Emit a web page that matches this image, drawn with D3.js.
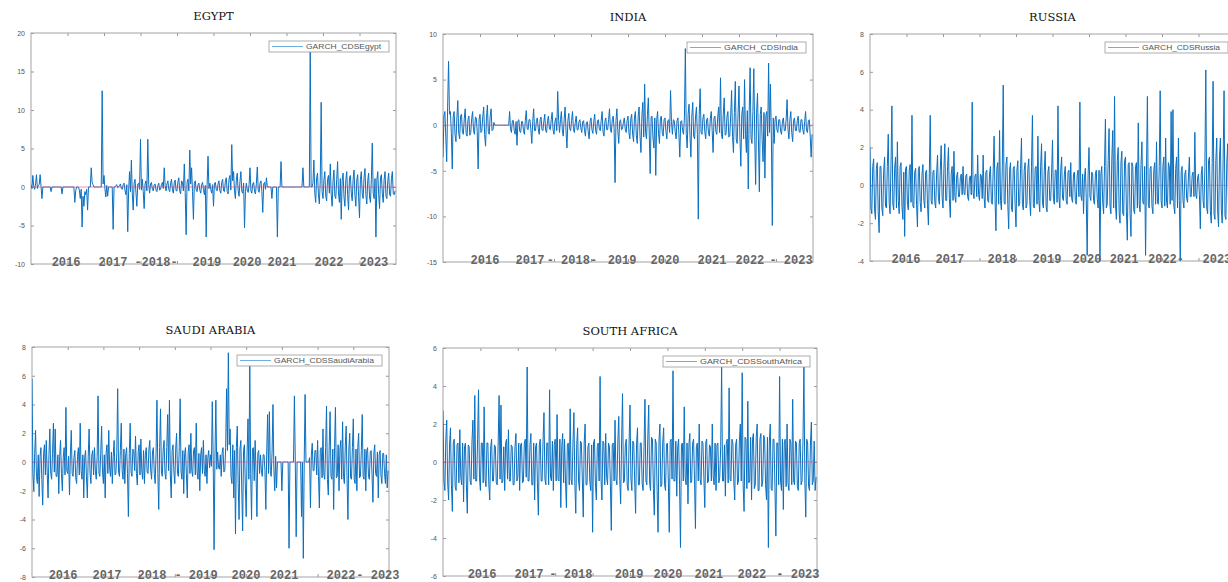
<!DOCTYPE html>
<html>
<head>
<meta charset="utf-8">
<script src="https://cdn.jsdelivr.net/npm/d3@7"></script>
<style>
body { margin: 0; background: #fff; }
svg { display: block; }
</style>
</head>
<body>
<div id="chart"></div>
<script>
"use strict";

// one value read every 5 observations, 2000 observations per series

const obsStep = 5;
const obsCount = 2000;
const xTicks = [200, 400, 600, 800, 1000, 1200, 1400, 1600, 1800];

const titles = ["EGYPT", "INDIA", "RUSSIA", "SAUDI ARABIA", "SOUTH AFRICA"];
const legendNames = ["GARCH_CDSEgypt", "GARCH_CDSIndia", "GARCH_CDSRussia", "GARCH_CDSSaudiArabia", "GARCH_CDSSouthAfrica"];

const egypt = [
    0.3, -0.2, 1.5, 0.1, -0.3, 0.4, 1.6, -0.2, 0.2, 0.3, 1.6, 0.1, -1.5, 0, 0, 0, 0, 0, 0, 0,
    0, 0, -0.6, 0, 0, 0, 0, 0, 0, 0, 0, 0, 0, 0, -0.9, 0, 0, 0, 0, 0,
    0, 0, 0, 0, 0, 0, 0, 0, -2.0, -0.5, 0, 0, 0, -0.4, -1.5, -0.3, -5.2, -1.2, -2.5, -0.6,
    -1.0, -0.3, -3.0, 0, 0, 0, 2.5, 0.6, 0.3, 0, 0, 0, 0, 0, 0, 0, 0, 0, 12.5, 0.4,
    1.5, -0.2, -1.3, 0.2, -1.2, 0, 0, 0, 0, 0, -5.5, 0, 0, 0.2, 0.3, -0.1, 0, 0.2, 0.4, -0.2,
    -0.3, 0.3, 0.5, -0.4, -1.0, 0.3, -5.8, -0.5, 2.0, -0.6, 3.5, -0.8, -3.0, 0.5, 1.0, -0.7, -2.5, 0.4, 0.5, -0.3,
    6.2, -0.4, 1.0, -0.6, -2.8, 0.4, 0.8, -0.5, 6.2, 0.3, -0.8, 0.4, 0.6, -0.3, -0.5, 0.3, 0.4, -0.4, -0.6, 0.2,
    0.5, -0.4, -0.3, 0.3, 0.6, -0.2, 2.5, 0.2, -0.5, 0.4, 0.8, -0.3, -0.6, 0.5, 1.0, -0.4, -0.8, 0.6, 0.9, -0.5,
    -0.5, 0.7, 1.2, -0.6, -0.9, 0.8, 0.6, -0.5, 3.0, -0.7, -6.2, 0.6, 1.0, -0.5, 4.8, 0.4, 2.5, -0.6, -4.2, 0.5,
    0.8, -0.4, -0.6, 0.3, 0.5, -0.4, -0.8, 0.3, 0.6, -0.3, -1.0, 0.2, -6.5, 0.3, 4.0, -0.2, 0.5, -0.3, -0.8, 0.3,
    -2.5, 0.4, 0.6, -0.3, -0.5, 0.4, 0.8, -0.5, -0.8, 0.6, 1.0, -0.5, -0.6, 0.8, 1.2, -0.6, -0.9, 1.0, 1.5, -0.4,
    5.5, 0.8, 2.0, -0.5, -1.5, 0.9, 1.8, -0.4, -1.2, 0.7, 2.0, -0.6, -0.8, 0.5, -5.3, -0.6, 0.5, -0.4, -0.7, 0.3,
    2.5, -0.5, -0.8, 0.4, 0.6, -0.6, -0.9, 0.5, 2.6, -0.4, -0.7, 0.5, 0.8, -0.6, -3.3, 0.4, 0.6, -0.3, 1.2, 0,
    0, 0, 0, 0, -1.5, 0, 0, 0, 0, 0, -6.5, 0, 0, 0, 3.3, 0, 0, 0, 0, 0,
    0, 0, 0, 0, 0, 0, 0, 0, 0, 0, 0, 0, 0, 0, 0, 0, 0, 0, 2.5, 0,
    0, 0, 0, 0, 0, 0, 17.8, 0, 0, 0.5, 3.5, -0.8, -2.0, 1.2, 1.8, -1.0, -2.2, 0.8, 11.0, -0.6,
    -1.5, 0.9, 2.0, -1.2, -1.8, 1.0, 1.5, -0.8, 3.0, -1.0, -2.5, 0.8, 2.2, -1.2, -1.5, 1.0, 3.3, -0.9, -2.0, 1.1,
    -4.2, 0.8, 1.8, -1.3, -2.5, 0.9, 2.0, -1.0, -3.0, 1.2, 1.5, -0.8, -1.8, 1.0, 2.2, -1.1, -2.5, 0.9, 1.6, -1.2,
    -4.0, 1.0, 2.0, -0.9, -1.5, 1.2, 2.4, -1.0, -2.2, 0.8, 1.8, -1.3, -2.0, 1.0, 5.7, -0.8, -1.5, 1.1, -6.5, 0.9,
    2.0, -1.0, -2.8, 1.2, 1.6, -0.9, -2.0, 1.0, 2.0, -1.2, -1.5, 0.8, 1.8, -1.0, -1.2, 1.1, 2.0, -0.9, -1.0, -0.5
];

const india = [
    -3.5, 1.0, 1.5, -1.2, -4.0, 2.0, 7.0, 1.2, 1.5, -0.8, -4.8, 0.9, 1.5, -1.0, -1.8, 0.8, 2.7, -0.9, -1.5, 1.0,
    1.2, -0.8, -1.0, 0.7, 1.8, -0.9, -1.2, 0.6, 1.0, -1.1, -0.8, 0.7, 1.5, -0.6, -1.0, 0.9, 0.8, -0.7, -4.8, 0.6,
    1.2, -0.8, -0.6, 0.9, 2.0, -1.0, -2.3, 0.8, 2.2, -0.7, -1.0, 1.0, 1.8, -0.6, -0.5, 0.3, 0, 0, 0, 0,
    0, 0, 0, 0, 0, 0, 0, 0, 0, 0, 0, 0, 1.5, -0.4, -0.8, 0.5, 0.5, -0.6, -1.0, 0.4,
    -2.2, 0.5, 0.6, -0.7, -0.8, 0.4, 0.4, -0.6, -1.0, 0.5, 1.6, -0.4, -0.5, 0.6, 0.6, -0.5, -2.0, 0.4, 1.8, -0.6,
    -0.6, 0.5, 0.8, -0.4, -1.0, 0.6, 0.9, -0.5, -0.6, 0.4, 1.2, -0.6, -0.8, 0.5, 1.0, -0.4, -0.5, 0.6, 1.4, -0.5,
    -1.0, 0.4, 0.8, -0.6, 3.7, 0.5, -0.8, 0.6, 1.5, -0.5, -1.2, 0.7, 2.0, -0.6, -2.5, 0.5, 1.3, -0.4, -0.6, 0.5,
    1.5, -0.4, -0.8, 0.3, 1.0, -0.5, -0.5, 0.4, 0.6, -0.3, -0.8, 0.4, 0.5, -0.6, -1.2, 0.3, 0.4, -0.7, -1.5, 0.4,
    0.8, -0.5, -0.9, 0.4, 1.2, -0.6, -1.0, 0.5, 0.6, -0.4, -0.6, 0.5, 1.5, -0.7, -1.2, 0.4, 0.8, -0.5, -0.5, 0.6,
    1.8, -0.5, -0.8, 0.6, 1.0, -0.4, -6.3, 0.5, 1.8, -0.6, -2.0, 0.4, 0.6, -0.5, -0.4, 0.3, 0.8, -0.4, -0.8, 0.5,
    1.0, -0.8, -1.5, 0.7, 1.2, -1.0, -1.8, 0.9, 1.5, -1.1, -2.0, 1.0, 2.0, -1.2, -3.0, 1.0, 2.5, -1.3, 4.5, -0.8,
    -1.5, 1.2, 3.0, -1.0, -5.3, 0.9, 1.0, -1.4, -2.5, 0.8, -5.5, 0.6, 1.5, -0.9, -2.0, 0.7, 1.0, -0.8, -1.2, 0.6,
    0.8, -0.7, -1.5, 0.5, 0.6, -0.8, 3.8, 0.4, -1.0, 0.6, 0.5, -0.7, -1.5, 0.5, 0.8, -0.9, -3.5, 0.4, 0.5, -0.6,
    -1.0, 0.8, 8.4, -1.0, -2.5, 1.2, 2.3, -1.1, -3.5, 1.0, 2.5, -1.2, -1.5, 0.9, 2.0, -1.0, -10.3, 1.2, 4.0, -0.8,
    -1.0, 0.8, 1.2, -0.7, -1.5, 0.6, 0.8, -0.9, -1.2, 0.7, 1.5, -0.6, -3.0, 0.8, 1.0, -0.7, -1.0, 0.9, 2.0, -0.8,
    5.2, -1.0, -1.5, 1.2, 3.0, -1.1, -1.0, 1.0, 1.5, -1.3, -1.2, 1.0, 3.8, -1.2, -3.0, 1.4, 4.8, -1.5, -2.0, 1.3,
    4.3, -1.4, -4.5, 1.2, 2.0, -1.5, 5.0, -1.0, -3.0, 1.6, -7.0, 1.2, 6.3, -1.4, -2.0, 1.5, 6.2, -1.2, -6.5, 1.3,
    3.5, -1.5, -7.3, 1.2, 2.0, -1.6, -4.0, 1.4, -5.8, 1.0, 1.5, -1.2, 6.8, -0.8, 4.5, -1.5, -11.0, 0.8, -2.0, 0.6,
    1.0, -0.5, -0.8, 0.6, 0.6, -0.7, -1.0, 0.5, 0.8, -0.6, -0.6, 0.7, 2.8, -0.5, -1.5, 0.6, 1.5, -0.8, -1.8, 0.5,
    0.8, -0.6, -0.6, 0.5, 1.0, -0.7, -0.8, 0.6, 0.6, -0.5, -1.0, 0.4, 1.5, -0.6, -0.8, 0.5, 0.6, -1.2, -3.5, -1.0
];

const russia = [
    2.0, -1.2, -1.5, 1.0, 1.4, -1.3, -1.8, 0.9, 1.2, -1.4, -2.5, 1.0, 1.0, -1.2, -1.6, 0.8, 1.5, -1.1, -1.2, 1.0,
    2.7, -0.9, -1.5, 1.1, 4.2, -1.0, -1.3, 0.9, 1.5, -1.2, 2.3, -0.8, -1.5, 1.0, 1.2, -1.1, -1.8, 0.7, -2.7, 0.9,
    1.0, -1.0, -1.3, 0.8, 1.1, -0.9, 3.7, -1.1, -1.2, 0.7, 0.9, -1.0, -2.2, 0.8, 1.0, -0.9, -1.4, 0.6, 1.1, -0.8,
    -1.2, 0.7, 0.8, -1.0, -2.1, 0.6, 3.7, -0.8, -1.0, 0.7, 0.8, -0.9, -1.2, 0.6, 1.6, -0.7, -1.0, 0.8, 2.1, -0.6,
    -1.2, 0.9, 2.2, -0.8, -0.8, 1.0, 2.0, -0.7, -1.7, 0.6, 1.0, -0.8, 1.8, -0.6, -0.9, 0.5, 0.7, -0.6, -0.6, 0.4,
    0.6, -0.5, 1.0, -0.4, -0.5, 0.5, 0.6, -0.6, -0.8, 0.4, 0.5, -0.5, 4.4, -0.4, -0.7, 0.5, 0.6, -0.6, 1.6, -0.5,
    -0.8, 0.6, 0.5, -0.7, 1.6, -0.6, -1.2, 0.7, 0.8, -0.8, -0.9, 0.6, 1.0, -0.9, -1.0, 0.8, 2.6, -0.7, -2.4, 0.9,
    1.2, -1.0, 2.9, -0.8, -1.3, 1.0, 5.3, -0.9, -1.0, 1.1, 1.5, -1.0, -2.3, 0.8, 1.2, -1.2, -1.4, 0.9, 1.0, -1.0,
    -2.2, 0.8, 1.3, -1.1, -1.0, 0.9, 2.5, -1.0, -1.3, 0.8, 1.2, -1.2, -1.0, 0.9, 1.4, -0.8, -1.6, 1.0, 3.7, -1.1,
    -1.2, 0.9, 1.0, -1.0, 2.6, -0.8, -1.4, 1.0, 2.2, -0.9, -1.2, 0.8, 1.8, -1.1, -1.4, 0.7, 1.0, -0.8, -0.8, 0.6,
    2.4, -0.7, -1.0, 0.8, 0.8, -0.9, 4.2, -0.6, -1.2, 0.8, 1.5, -0.7, -0.8, 0.6, 1.0, -0.8, -1.0, 0.7, 0.8, -0.6,
    1.2, -0.7, -0.9, 0.6, 0.7, -0.8, -1.0, 0.5, 0.8, -0.6, 4.4, -0.5, -0.8, 0.6, -1.5, 0.4, 0.9, -0.7, -3.7, 0.5,
    2.0, -0.6, -0.8, 0.7, 0.6, -0.8, -1.0, 0.6, 0.8, -0.7, -1.2, 0.8, -4.0, 0.6, 1.0, -0.9, -1.5, 1.0, 3.5, -1.2,
    -1.0, 1.3, 3.0, -1.1, -1.5, 1.4, 2.9, -1.2, 4.7, -1.0, -1.8, 1.3, 2.0, -1.4, -2.0, 1.2, 1.8, -1.5, -1.6, 1.3,
    1.5, -1.4, -2.9, 1.1, 1.2, -1.5, -2.7, 1.2, 1.0, -1.3, -1.5, 1.0, 1.2, -1.2, 3.3, -1.0, -1.4, 1.1, 2.3, -0.9,
    -1.0, 1.0, -3.7, 0.8, 4.7, -1.0, -1.2, 0.9, 1.0, -1.1, -1.5, 0.8, 1.2, -1.0, 2.3, -0.9, -1.0, 1.0, 5.0, -0.8,
    -1.2, 1.0, 1.5, -1.1, 2.5, -0.9, -1.2, 1.2, 1.0, -1.0, 3.9, -0.8, 4.0, -1.1, -1.5, 0.9, 1.5, -1.2, 2.5, -0.8,
    -4.0, 0.7, 1.0, -0.8, -1.2, 0.6, 0.8, -0.7, -0.9, 0.5, 1.5, -0.6, -0.6, 0.5, 0.7, -0.6, 2.8, -0.5, -0.7, 0.4,
    0.6, -0.5, -2.3, 0.6, 1.0, -0.8, -1.2, 1.0, 6.1, -1.2, -1.5, 1.3, 1.5, -1.4, -2.0, 1.2, 5.5, -1.5, -1.8, 1.3,
    2.5, -1.4, -2.2, 1.5, 2.5, -1.3, -2.0, 1.4, 5.0, -1.6, -1.8, 1.2, 2.2, -1.5, -2.0, 1.3, 2.0, -1.4, -1.5, 1.0
];

const saudiArabia = [
    5.8, -0.8, -2.0, 0.6, 2.2, -1.0, -1.5, 0.5, -2.4, 0.4, 1.0, -1.2, -3.0, 0.6, 1.2, -0.9, 1.5, -0.7, -2.5, 0.5,
    2.3, -0.8, -1.2, 0.6, 2.7, -0.7, 2.3, -1.0, -1.0, 0.5, -2.2, 0.4, 1.5, -0.8, -2.0, 0.3, 1.0, -0.9, 3.8, -0.6,
    -0.8, 0.4, -2.3, 0.5, 2.2, -0.8, -1.0, 0.3, 0.8, -1.1, -1.5, 0.4, 1.0, -0.9, 2.7, -0.6, -1.2, 0.5, -2.5, 0.3,
    0.8, -1.0, -2.5, 0.4, 2.3, -0.7, -1.5, 0.5, 0.8, -0.9, 1.0, -0.6, -1.2, 0.4, 4.6, -0.8, -1.0, 0.6, 2.5, -0.7,
    -1.5, 0.5, -2.5, 0.6, 1.2, -0.8, 2.2, -0.5, -1.0, 0.7, -1.5, 0.4, 1.5, -0.9, -0.8, 0.6, 5.1, -0.7, -1.0, 0.8,
    2.7, -0.6, -1.2, 0.9, -1.5, 0.5, 1.0, -0.8, -3.8, 0.6, 2.7, -0.7, -1.0, 0.9, 0.8, -0.6, 1.8, -0.8, -1.6, 0.7,
    1.2, -0.9, 1.6, -0.6, -1.2, 0.8, -1.5, 0.5, 1.0, -0.7, -0.8, 0.9, 1.5, -0.6, -1.2, 0.7, 1.0, -0.8, -1.5, 0.6,
    4.3, -0.8, -3.3, 1.0, 3.7, -0.7, -1.0, 0.9, 1.5, -0.8, -1.2, 1.0, 3.3, -0.6, 4.3, -0.9, -2.5, 0.8, 1.2, -0.7,
    -1.5, 0.9, 2.0, -0.8, -1.0, 1.0, 4.4, -0.7, -1.2, 0.8, -2.2, 0.6, 1.0, -0.9, -2.5, 0.7, 1.2, -0.8, 2.0, -0.6,
    -1.0, 0.8, 1.0, -0.9, 2.7, -0.7, -1.2, 0.6, -2.0, 0.5, 1.0, -0.8, 1.5, -0.6, -1.0, 0.5, -1.5, 0.3, 0.8, -0.4,
    0.5, -0.3, 4.2, 0.2, -6.1, 0.4, 4.3, -0.5, 0.7, -0.4, -0.5, 0.5, -1.0, 0.6, 1.0, -0.7, -0.6, 1.0, 5.1, 0.8,
    7.6, 1.2, 2.3, -1.0, -1.5, 1.2, -2.5, 0.8, -5.0, 1.0, 2.5, -1.5, -4.0, 0.9, 1.5, -1.8, -4.8, 0.8, 1.2, -1.6,
    -3.8, 0.7, 3.0, -1.2, 6.8, -0.8, -4.0, 0.9, 1.0, -1.3, 1.5, -0.7, -3.8, 0.6, 0.8, -0.8, 0.5, -0.6, -1.0, 0.5,
    0.5, -0.6, -3.3, 0.7, 3.3, -0.8, 3.5, -0.6, -1.0, 0.7, 4.0, -0.5, -2.0, 0.4, -1.8, 0, 0, 0, 0, 0,
    -2.0, 0, 0, 0, 0, 0, 0, 0, -6.0, 0, 0, 0, 0, 0, 4.6, 0, -5.2, 0, 0, 0,
    0, 0, -3.8, 0, -6.7, 0, 4.7, 0, 0, 0, 0, 0.3, -3.2, 0.5, 1.3, -0.6, -0.6, 0.8, 0.8, -0.9,
    1.5, -1.0, -3.2, 0.8, 1.0, -1.1, 2.3, -0.9, -1.2, 1.0, 3.9, -1.2, -2.3, 1.1, 3.5, -1.0, -1.2, 0.9, -3.3, 1.0,
    3.8, -1.1, -1.0, 1.2, -2.0, 0.9, 1.5, -1.2, 2.8, -1.0, -1.5, 1.1, 2.5, -1.2, -4.0, 0.9, 2.0, -1.1, -1.2, 1.0,
    3.0, -1.2, -1.5, 0.9, -2.0, 1.0, 2.0, -1.1, -1.0, 0.8, 3.3, -1.0, -1.2, 0.9, -2.0, 0.8, 1.0, -1.0, -1.2, 0.7,
    0.8, -0.9, -2.8, 0.6, 1.2, -0.8, -1.0, 0.7, -2.5, 0.5, 0.8, -0.9, -1.5, 0.6, 0.6, -0.8, -1.5, 0.5, -1.8, -0.6
];

const southAfrica = [
    2.7, -1.0, -1.5, 1.2, 2.2, -1.1, -2.0, 0.9, 1.8, -1.2, -2.6, 1.0, 1.2, -1.3, -1.5, 0.9, 1.0, -1.1, 1.7, -0.8,
    -1.2, 1.0, -2.1, 0.8, 1.0, -1.2, -2.7, 0.9, 0.8, -1.0, -1.2, 1.1, 2.2, -0.9, 3.5, -1.0, -1.0, 1.2, 3.8, -0.8,
    -1.5, 1.0, 1.0, -1.1, 2.9, -0.9, -1.3, 1.0, 1.0, -1.2, -2.0, 0.8, 1.2, -1.0, -1.0, 0.9, 0.8, -1.1, -1.2, 1.0,
    3.5, -0.9, 3.0, -1.1, -1.0, 0.8, -1.5, 1.0, 1.2, -0.9, 1.7, -1.0, -1.0, 0.9, 0.8, -1.2, -1.2, 0.8, 1.5, -1.0,
    -0.8, 1.0, -1.5, 0.9, 1.0, -1.1, -1.0, 1.0, 1.2, -0.8, 5.0, -1.0, -1.0, 0.9, 1.5, -1.2, -1.2, 1.0, -2.0, 0.8,
    1.0, -1.1, -2.8, 0.9, 1.2, -1.0, -1.0, 1.1, 2.6, -0.9, -1.2, 1.0, 1.0, -1.2, 3.8, -0.8, -1.0, 1.1, -1.5, 0.9,
    1.2, -1.0, 2.5, -0.9, -1.0, 1.2, -2.4, 0.8, 1.5, -1.1, 1.2, -1.0, -2.4, 0.9, 1.0, -1.2, 2.8, -0.9, -1.2, 1.0,
    2.6, -1.1, -2.7, 0.9, 1.8, -1.0, -1.5, 1.1, 1.0, -0.9, -2.9, 1.0, 2.0, -1.2, -1.2, 0.8, 1.0, -1.0, -1.5, 0.9,
    -3.7, 1.0, 1.2, -1.1, -2.0, 0.8, 1.0, -1.0, 4.5, -0.9, -2.0, 1.1, 1.0, -1.2, 1.5, -0.8, -1.2, 1.0, 0.8, -1.1,
    -3.6, 0.9, 1.0, -1.0, 2.2, -0.9, -1.2, 1.1, 2.4, -0.8, -2.2, 1.0, 3.6, -1.1, -1.0, 0.9, 1.2, -1.2, -1.5, 1.0,
    3.0, -0.9, -1.5, 1.1, 1.0, -1.0, -2.7, 0.9, 1.8, -1.2, -1.2, 1.0, 1.0, -1.1, -1.5, 0.8, 3.3, -1.0, -1.2, 1.2,
    3.0, -1.1, -1.5, 1.3, 1.2, -1.4, -2.8, 1.2, 1.0, -1.5, -3.7, 1.1, 2.0, -1.3, -1.2, 1.0, 1.8, -1.2, -1.5, 0.9,
    1.0, -1.0, -3.7, 1.1, 1.2, -0.9, 4.8, -1.0, -1.0, 1.1, -1.8, 0.8, 1.2, -1.2, -4.5, 0.9, 1.0, -1.0, 2.9, -0.8,
    -1.2, 1.0, -2.2, 0.9, 1.5, -1.1, -1.0, 1.0, 1.2, -0.9, -3.5, 0.8, 1.0, -1.0, 2.0, -0.9, -1.2, 1.1, 1.0, -0.8,
    -2.4, 1.0, 1.2, -1.1, -1.0, 0.9, 0.8, -1.0, 2.0, -0.8, -1.2, 1.0, -1.5, 0.9, 1.0, -1.1, -0.8, 0.8, 5.0, -1.0,
    -1.0, 0.9, -1.8, 1.0, 1.2, -1.1, 3.9, -0.9, -1.0, 1.2, 1.0, -1.0, -2.0, 0.9, 1.2, -1.2, -1.0, 1.1, 2.0, -1.0,
    4.7, -1.2, -2.6, 1.3, 1.2, -1.4, 3.2, -1.1, -1.0, 1.3, -2.0, 1.2, 1.5, -1.4, -1.2, 1.3, 2.0, -1.5, -1.5, 1.2,
    1.5, -1.3, -1.0, 1.4, 1.2, -1.2, -2.0, 1.3, -4.5, 1.0, 2.0, -1.4, -1.5, 1.2, 1.2, -1.3, -3.9, 1.0, 1.0, -1.2,
    4.5, -1.0, -1.5, 1.2, -2.5, 1.0, 1.2, -1.3, 2.0, -1.1, -1.5, 1.2, 1.0, -1.2, 3.3, -1.0, -1.2, 1.1, 1.0, -1.3,
    -1.5, 1.0, 1.2, -1.2, -1.0, 1.1, 5.0, -1.0, -2.9, 1.2, 1.0, -1.3, -1.5, 1.0, 2.1, -1.2, -1.0, 1.1, -1.5, -0.8
];

const yTicksEgypt = [20, 15, 10, 5, 0, -5, -10];
const yTicksIndia = [10, 5, 0, -5, -10, -15];
const yTicksRussia = [8, 6, 4, 2, 0, -2, -4];
const yTicksSaudi = [8, 6, 4, 2, 0, -2, -4, -6, -8];
const yTicksSouthAfrica = [6, 4, 2, 0, -2, -4, -6];

// year labels pasted under each panel, placed at an observation index
const yearTextEgypt = ["2016", "2017", "-2018-", "2019", "2020", "2021", "2022", "2023"];
const yearObsEgypt = [192, 449, 685, 964, 1184, 1375, 1633, 1879];
const yearTextIndia = ["2016", "2017", "- 2018-", "2019", "2020", "2021", "2022", "- 2023"];
const yearObsIndia = [227, 470, 697, 968, 1200, 1454, 1659, 1881];
const yearTextRussia = ["2016", "2017", "2018", "2019", "2020", "2021", "2022-", "2023"];
const yearObsRussia = [197, 438, 723, 970, 1189, 1392, 1622, 1901];
const yearTextSaudi = ["2016", "2017", "2018", "- 2019", "2020", "2021", "2022", "- 2023"];
const yearObsSaudi = [174, 420, 672, 919, 1199, 1412, 1731, 1938];
const yearTextSouthAfrica = ["2016", "2017", "- 2018", "2019", "2020", "2021", "2022", "- 2023"];
const yearObsSouthAfrica = [209, 460, 684, 995, 1203, 1422, 1652, 1898];


// layout of the five panels (pixels)

const panels = [
    {values: egypt, yTicks: yTicksEgypt, years: yearTextEgypt, yearObs: yearObsEgypt, left: 31, top: 33, width: 365, height: 231, legendWidth: 120},
    {values: india, yTicks: yTicksIndia, years: yearTextIndia, yearObs: yearObsIndia, left: 443, top: 34, width: 370, height: 228, legendWidth: 119},
    {values: russia, yTicks: yTicksRussia, years: yearTextRussia, yearObs: yearObsRussia, left: 870, top: 34, width: 365, height: 227, legendWidth: 123},
    {values: saudiArabia, yTicks: yTicksSaudi, years: yearTextSaudi, yearObs: yearObsSaudi, left: 32, top: 347, width: 357, height: 230, legendWidth: 145},
    {values: southAfrica, yTicks: yTicksSouthAfrica, years: yearTextSouthAfrica, yearObs: yearObsSouthAfrica, left: 443, top: 348, width: 374, height: 228, legendWidth: 147}
];

const width = 1228;
const height = 582;


function panel(svg, p, k) {

    const x = d3.scaleLinear()
        .domain([0, obsCount])
        .range([p.left, p.left + p.width]);

    const y = d3.scaleLinear()
        .domain(d3.extent(p.yTicks))
        .range([p.top + p.height, p.top]);

    const g = svg.append("g");

    svg.append("clipPath")
        .attr("id", "clip" + k)
      .append("rect")
        .attr("x", p.left)
        .attr("y", p.top)
        .attr("width", p.width)
        .attr("height", p.height);

    // title
    g.append("text")
        .attr("x", p.left + p.width / 2)
        .attr("y", p.top - 13)
        .attr("text-anchor", "middle")
        .style("font", "11.5px 'DejaVu Serif'")
        .attr("fill", "#111")
        .text(titles[k]);

    // axes, MATLAB style: ticks inside, box around
    const fmt = d => String(d);

    g.append("g")
        .attr("transform", `translate(${p.left},0)`)
        .call(d3.axisLeft(y).tickValues(p.yTicks).tickSize(-3).tickPadding(6).tickFormat(fmt))
        .call(a => a.select(".domain").remove())
        .call(a => a.selectAll("line").attr("stroke", "#999"))
        .call(a => a.selectAll("text").attr("fill", "#555").style("font", "7px 'Liberation Sans'"));

    g.append("g")
        .attr("transform", `translate(${p.left + p.width},0)`)
        .call(d3.axisRight(y).tickValues(p.yTicks).tickSize(-3).tickFormat(""))
        .call(a => a.select(".domain").remove())
        .call(a => a.selectAll("line").attr("stroke", "#999"));

    g.append("g")
        .attr("transform", `translate(0,${p.top})`)
        .call(d3.axisTop(x).tickValues(xTicks).tickSize(-3).tickFormat(""))
        .call(a => a.select(".domain").remove())
        .call(a => a.selectAll("line").attr("stroke", "#999"));

    g.append("g")
        .attr("transform", `translate(0,${p.top + p.height})`)
        .call(d3.axisBottom(x).tickValues(xTicks).tickSize(-3).tickFormat(""))
        .call(a => a.select(".domain").remove())
        .call(a => a.selectAll("line").attr("stroke", "#999"));

    g.append("rect")
        .attr("x", p.left)
        .attr("y", p.top)
        .attr("width", p.width)
        .attr("height", p.height)
        .attr("fill", "none")
        .attr("stroke", "#a3a3a3")
        .attr("stroke-width", 1);

    // series
    const line = d3.line()
        .x((d, i) => x(i * obsStep))
        .y(d => y(d));

    g.append("path")
        .datum(p.values)
        .attr("clip-path", `url(#clip${k})`)
        .attr("fill", "none")
        .attr("stroke", "#0a6fbf")
        .attr("stroke-width", 1)
        .attr("stroke-linejoin", "round")
        .attr("d", line);

    // zero line on top
    g.append("line")
        .attr("x1", x(0))
        .attr("x2", x(obsCount))
        .attr("y1", y(0))
        .attr("y2", y(0))
        .attr("stroke", "#e0407a")
        .attr("stroke-opacity", 0.7)
        .attr("stroke-width", 0.8);

    // legend
    const lw = p.legendWidth;
    const lg = g.append("g")
        .attr("transform", `translate(${p.left + p.width - lw - 7},${p.top + 8})`);

    lg.append("rect")
        .attr("width", lw)
        .attr("height", 11)
        .attr("fill", "#fff")
        .attr("stroke", "#9a9a9a")
        .attr("stroke-width", 0.8);

    lg.append("line")
        .attr("x1", 3)
        .attr("x2", 34)
        .attr("y1", 5.5)
        .attr("y2", 5.5)
        .attr("stroke", "#4a9ad6")
        .attr("stroke-width", 0.8);

    lg.append("text")
        .attr("x", 37)
        .attr("y", 8)
        .attr("textLength", lw - 45)
        .attr("lengthAdjust", "spacingAndGlyphs")
        .attr("fill", "#555")
        .style("font", "6.5px 'Liberation Sans'")
        .text(legendNames[k]);

    // year labels over the bottom axis
    g.append("g")
        .selectAll("text")
        .data(p.years)
        .join("text")
        .attr("x", (d, i) => x(p.yearObs[i]))
        .attr("y", p.top + p.height + 2)
        .attr("text-anchor", "middle")
        .attr("fill", "#666")
        .style("font", "bold 12px 'Liberation Mono'")
        .text(d => d);
}


const svg = d3.select("#chart").append("svg")
    .attr("width", width)
    .attr("height", height);

panels.forEach((p, k) => panel(svg, p, k));

</script>
</body>
</html>
